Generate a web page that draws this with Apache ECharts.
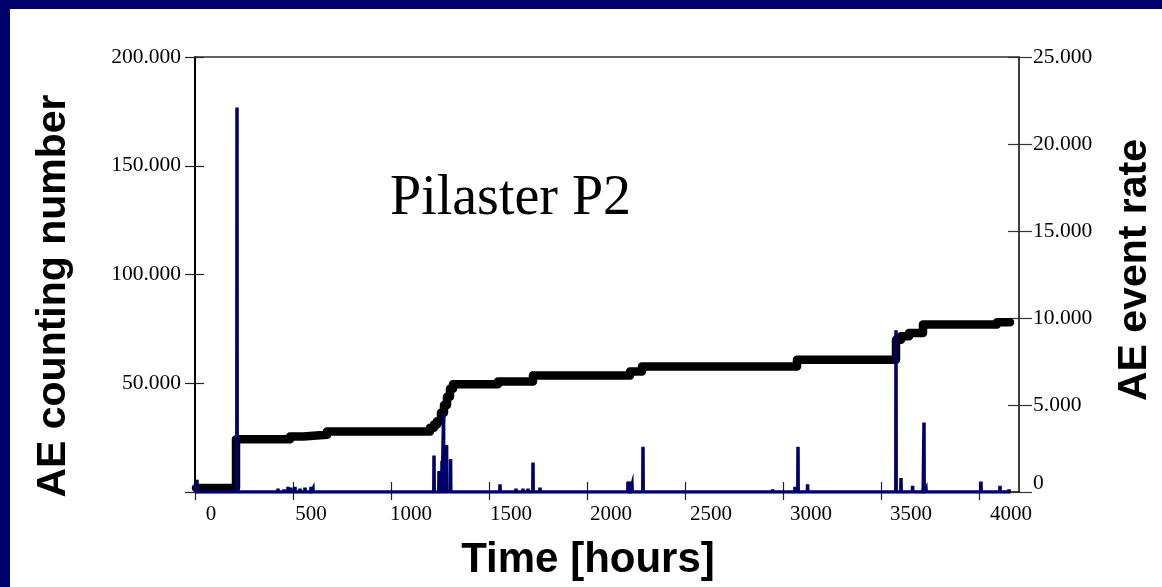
<!DOCTYPE html>
<html>
<head>
<meta charset="utf-8">
<script src="https://cdn.jsdelivr.net/npm/echarts@6/dist/echarts.min.js"></script>
<style>
html,body{margin:0;padding:0;background:#fff;}
#chart{width:1162px;height:587px;}
</style>
</head>
<body>
<div id="chart"></div>
<script>
// ---- data ----
// cumulative AE counting number (left axis): time [h] where a level starts, level
var countTimes  = [-75, 125, 395, 460, 580, 1095, 1115, 1130, 1150, 1165, 1180, 1195, 1210, 1435, 1610, 2095, 2155, 2930, 3425, 3450, 3490, 3560, 3930, 3995];
var countValues = [1.8, 24.3, 25.5, 26.3, 27.8, 29.5, 31.0, 32.5, 36.4, 40.0, 43.8, 47.5, 49.5, 50.8, 53.6, 55.4, 57.7, 60.8, 70.0, 71.6, 73.1, 77.0, 78.0, 78.0];

// AE event rate spikes (right axis)
var spikeTimes = [-70, 130, 335, 365, 385, 400, 420, 445, 470, 500, 510,
                  1115, 1140, 1155, 1163, 1178, 1198, 1445, 1525, 1560, 1585, 1610, 1645,
                  2085, 2095, 2105, 2160, 2808, 2920, 2935, 2983,
                  3425, 3450, 3508, 3560, 3565, 3575, 3850, 3945, 3990];
var spikeRates = [0.7, 22.1, 0.2, 0.15, 0.3, 0.25, 0.3, 0.2, 0.25, 0.3, 0.2,
                  2.1, 1.2, 1.8, 4.5, 2.7, 1.9, 0.45, 0.2, 0.2, 0.2, 1.7, 0.25,
                  0.6, 0.6, 0.4, 2.6, 0.15, 0.3, 2.6, 0.45,
                  9.3, 0.8, 0.35, 0.2, 4.0, 0.2, 0.6, 0.35, 0.15];
var rateStart = -78, rateEnd = 3998;

// axis ticks / labels
var xLabelValues = [0, 500, 1000, 1500, 2000, 2500, 3000, 3500, 4000];
var xTickValues  = [-80, 410, 900, 1390, 1880, 2370, 2860, 3350, 3840];
var xMin = -80, xMax = 4040;
var leftMax = 200, leftInterval = 50;
var rightMax = 25, rightInterval = 5;

var titleText = 'Pilaster P2';
var leftName = 'AE counting number';
var rightName = 'AE event rate';
var xName = 'Time [hours]';

// ---- build series data ----
var countData = countTimes.map(function (t, i) { return [t, countValues[i]]; });
var rateData = [[rateStart, 0]];
spikeTimes.forEach(function (t, i) {
  rateData.push([t - 1, 0]);
  rateData.push([t, spikeRates[i]]);
  rateData.push([t + 1, 0]);
});
rateData.push([rateEnd, 0]);

var serif = "'Liberation Serif','Times New Roman',serif";
var sans = "'Liberation Sans',Arial,sans-serif";
var navy = '#00006b';

var chart = echarts.init(document.getElementById('chart'), null, {renderer: 'canvas'});
chart.setOption({
  animation: false,
  backgroundColor: '#fff',
  grid: {left: 195, right: 143, top: 57, bottom: 95, containLabel: false},
  xAxis: [
    {
      type: 'value', min: xMin, max: xMax, position: 'bottom', gridIndex: 0,
      axisLine: {onZero: false, lineStyle: {color: '#000', width: 1.5}},
      axisTick: {show: true, inside: false, length: 8, customValues: xTickValues, lineStyle: {color: '#222', width: 1.2}},
      axisLabel: {customValues: xLabelValues, margin: 12, color: '#000', fontFamily: serif, fontSize: 21,
        formatter: function (v) { return String(v); }},
      splitLine: {show: false}
    },
    {
      type: 'value', min: xMin, max: xMax, position: 'bottom', gridIndex: 0, offset: 0,
      axisLine: {show: false, onZero: false},
      axisTick: {show: true, inside: true, length: 10, customValues: xTickValues, lineStyle: {color: '#222', width: 1.2}},
      axisLabel: {show: false},
      splitLine: {show: false}
    },
    {
      type: 'value', min: xMin, max: xMax, position: 'top', gridIndex: 0,
      axisLine: {show: true, onZero: false, lineStyle: {color: '#333', width: 1.5}},
      axisTick: {show: false}, axisLabel: {show: false}, splitLine: {show: false}
    }
  ],
  yAxis: [
    {
      type: 'value', min: 0, max: leftMax, interval: leftInterval, position: 'left',
      axisLine: {show: true, onZero: false, lineStyle: {color: '#000', width: 2}},
      axisTick: {show: true, inside: false, length: 10, lineStyle: {color: '#222', width: 1.2}},
      axisLabel: {margin: 14, color: '#000', fontFamily: serif, fontSize: 21.5,
        formatter: function (v) { return v === 0 ? '' : v.toFixed(3); }},
      splitLine: {show: false}
    },
    {
      type: 'value', min: 0, max: leftMax, interval: leftInterval, position: 'left', offset: 0,
      axisLine: {show: false, onZero: false},
      axisTick: {show: true, inside: true, length: 9, lineStyle: {color: '#222', width: 1.2}},
      axisLabel: {show: false}, splitLine: {show: false}
    },
    {
      type: 'value', min: 0, max: rightMax, interval: rightInterval, position: 'right',
      axisLine: {show: true, onZero: false, lineStyle: {color: '#000', width: 1.5}},
      axisTick: {show: true, inside: false, length: 13, lineStyle: {color: '#333', width: 1.2}},
      axisLabel: {margin: 14, color: '#000', fontFamily: serif, fontSize: 21.5,
        formatter: function (v) { return v === 0 ? '{z|0}' : v.toFixed(3); },
        rich: {z: {fontFamily: serif, fontSize: 21.5, color: '#000', padding: [0, 0, 18, 0]}}},
      splitLine: {show: false}
    },
    {
      type: 'value', min: 0, max: rightMax, interval: rightInterval, position: 'right', offset: 0,
      axisLine: {show: false, onZero: false},
      axisTick: {show: true, inside: true, length: 11, lineStyle: {color: '#333', width: 1.2}},
      axisLabel: {show: false}, splitLine: {show: false}
    }
  ],
  series: [
    {
      name: 'count', type: 'line', xAxisIndex: 0, yAxisIndex: 0, step: 'end',
      data: countData, showSymbol: false, symbol: 'none', z: 3,
      lineStyle: {color: '#000', width: 8.5, cap: 'round', join: 'round'}
    },
    {
      name: 'rate', type: 'line', xAxisIndex: 0, yAxisIndex: 2,
      data: rateData, showSymbol: false, symbol: 'none', z: 4,
      lineStyle: {color: navy, width: 3.5, join: 'miter'}
    }
  ],
  graphic: [
    {type: 'rect', shape: {x: 0, y: 0, width: 1162, height: 9}, style: {fill: navy}, z: 100},
    {type: 'rect', shape: {x: 0, y: 0, width: 10, height: 587}, style: {fill: navy}, z: 100},
    {type: 'text', x: 390, y: 199, z: 50,
      style: {text: titleText, fontFamily: serif, fontSize: 56, fill: '#000', textAlign: 'left', textVerticalAlign: 'middle'}},
    {type: 'text', x: 54, y: 296, rotation: Math.PI / 2, z: 50,
      style: {text: leftName, fontFamily: sans, fontWeight: 'bold', fontSize: 41, fill: '#000', textAlign: 'center', textVerticalAlign: 'middle'}},
    {type: 'text', x: 1135, y: 270, rotation: Math.PI / 2, z: 50,
      style: {text: rightName, fontFamily: sans, fontWeight: 'bold', fontSize: 41, fill: '#000', textAlign: 'center', textVerticalAlign: 'middle'}},
    {type: 'text', x: 588, y: 560, z: 50,
      style: {text: xName, fontFamily: sans, fontWeight: 'bold', fontSize: 42, fill: '#000', textAlign: 'center', textVerticalAlign: 'middle'}}
  ]
});
</script>
</body>
</html>
